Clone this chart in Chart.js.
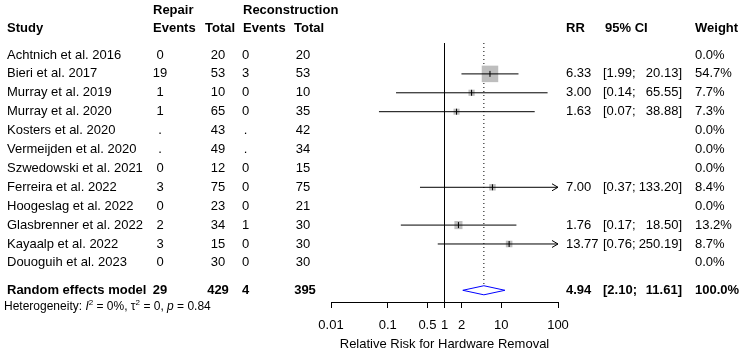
<!DOCTYPE html>
<html>
<head>
<meta charset="utf-8">
<script src="https://cdn.jsdelivr.net/npm/chart.js@4.4.0/dist/chart.umd.min.js"></script>
<style>
  html, body { margin: 0; padding: 0; background: #fff; }
  #wrap { width: 743px; height: 353px; }
</style>
</head>
<body>
<div id="wrap"><canvas id="canvas"></canvas></div>
<script>
// study data
const studies = ['Achtnich et al. 2016', 'Bieri et al. 2017', 'Murray et al. 2019', 'Murray et al. 2020',
  'Kosters et al. 2020', 'Vermeijden et al. 2020', 'Szwedowski et al. 2021', 'Ferreira et al. 2022',
  'Hoogeslag et al. 2022', 'Glasbrenner et al. 2022', 'Kayaalp et al. 2022', 'Douoguih et al. 2023'];
const repairEvents = ['0', '19', '1', '1', '.', '.', '0', '3', '0', '2', '3', '0'];
const repairTotal = [20, 53, 10, 65, 43, 49, 12, 75, 23, 34, 15, 30];
const reconEvents = ['0', '3', '0', '0', '.', '.', '0', '0', '0', '1', '0', '0'];
const reconTotal = [20, 53, 10, 35, 42, 34, 15, 75, 21, 30, 30, 30];
const rr = [null, 6.33, 3.00, 1.63, null, null, null, 7.00, null, 1.76, 13.77, null];
const ciLow = [null, 1.99, 0.14, 0.07, null, null, null, 0.37, null, 0.17, 0.76, null];
const ciHigh = [null, 20.13, 65.55, 38.88, null, null, null, 133.20, null, 18.50, 250.19, null];
const weight = [0.0, 54.7, 7.7, 7.3, 0.0, 0.0, 0.0, 8.4, 0.0, 13.2, 8.7, 0.0];

// pooled (random effects) result
const pooled = { repEv: 29, repTot: 429, recEv: 4, recTot: 395, rr: 4.94, lo: 2.10, hi: 11.61, w: 100.0 };
const tickVals = [0.01, 0.1, 0.5, 1, 2, 10, 100];
const xMin = 0.01, xMax = 100;

const FONT = '"Liberation Sans", Arial, Helvetica, sans-serif';
const yTop = -0.635, yBottom = 13.07;
const pooledRow = 12.45;
const hetRow = 13.33;
const diamondH = 0.24;

function ciText(lo, hi) {
  return ['[' + lo.toFixed(2) + ';', hi.toFixed(2) + ']'];
}

// all the text columns of the table
const tablePlugin = {
  id: 'forestTable',
  afterDraw(chart) {
    const ctx = chart.ctx;
    const ys = chart.scales.y;
    ctx.save();
    ctx.fillStyle = '#000';
    ctx.textBaseline = 'middle';
    function txt(s, x, row, bold, align) {
      ctx.font = (bold ? 'bold ' : '') + '13px ' + FONT;
      ctx.textAlign = align || 'left';
      ctx.fillText(s, x, ys.getPixelForValue(row));
    }
    // headers
    txt('Repair', 153, -2.38, true);
    txt('Reconstruction', 243, -2.38, true);
    txt('Study', 7, -1.43, true);
    txt('Events', 153, -1.43, true);
    txt('Total', 205, -1.43, true);
    txt('Events', 243, -1.43, true);
    txt('Total', 294, -1.43, true);
    txt('RR', 566, -1.43, true);
    txt('95% CI', 605, -1.43, true);
    txt('Weight', 695, -1.43, true);

    studies.forEach((s, i) => {
      txt(s, 7, i);
      txt(repairEvents[i], 160, i, false, 'center');
      txt(String(repairTotal[i]), 218, i, false, 'center');
      txt(reconEvents[i], 245.5, i, false, 'center');
      txt(String(reconTotal[i]), 303, i, false, 'center');
      if (rr[i] != null) {
        txt(rr[i].toFixed(2), 566, i);
        const c = ciText(ciLow[i], ciHigh[i]);
        txt(c[0], 603, i);
        txt(c[1], 682, i, false, 'right');
      }
      txt(weight[i].toFixed(1) + '%', 695, i);
    });

    // pooled row
    txt('Random effects model', 7, pooledRow, true);
    txt(String(pooled.repEv), 160, pooledRow, true, 'center');
    txt(String(pooled.repTot), 218, pooledRow, true, 'center');
    txt(String(pooled.recEv), 245.5, pooledRow, true, 'center');
    txt(String(pooled.recTot), 305, pooledRow, true, 'center');
    txt(pooled.rr.toFixed(2), 566, pooledRow, true);
    const pc = ciText(pooled.lo, pooled.hi);
    txt(pc[0], 603, pooledRow, true);
    txt(pc[1], 682, pooledRow, true, 'right');
    txt(pooled.w.toFixed(1) + '%', 695, pooledRow, true);

    // heterogeneity line, pieces with italic / superscript
    const hy = ys.getPixelForValue(hetRow);
    let hx = 4;
    const parts = [
      ['Heterogeneity: ', '', 12, 0], ['I', 'italic ', 12, 0], ['2', '', 8, -4],
      [' = 0%, ', '', 12, 0], ['\u03C4', '', 12, 0], ['2', '', 8, -4],
      [' = 0, ', '', 12, 0], ['p', 'italic ', 12, 0], [' = 0.84', '', 12, 0]
    ];
    ctx.textAlign = 'left';
    parts.forEach(p => {
      ctx.font = p[1] + p[2] + 'px ' + FONT;
      ctx.fillText(p[0], hx, hy + p[3]);
      hx += ctx.measureText(p[0]).width;
    });
    ctx.restore();
  }
};

// arrow heads where the CI runs past the axis
const arrowPlugin = {
  id: 'ciArrows',
  afterDatasetsDraw(chart) {
    const ctx = chart.ctx;
    const xs = chart.scales.x, ys = chart.scales.y;
    ctx.save();
    ctx.strokeStyle = '#000';
    ctx.lineWidth = 1;
    rr.forEach((v, i) => {
      if (v == null || ciHigh[i] <= xMax) return;
      const px = xs.getPixelForValue(xMax);
      const py = ys.getPixelForValue(i);
      ctx.beginPath();
      ctx.moveTo(px - 6, py - 3.5);
      ctx.lineTo(px, py);
      ctx.lineTo(px - 6, py + 3.5);
      ctx.stroke();
    });
    ctx.restore();
  }
};

const datasets = [];

// small black marks at the estimates
const estPoints = [];
rr.forEach((v, i) => { if (v != null) estPoints.push({ x: v, y: i }); });
datasets.push({
  data: estPoints, pointStyle: 'line', rotation: 90, pointRadius: 3,
  borderColor: '#000', borderWidth: 1, order: 0
});

// confidence interval lines
rr.forEach((v, i) => {
  if (v == null) return;
  datasets.push({
    data: [{ x: Math.max(ciLow[i], xMin), y: i }, { x: Math.min(ciHigh[i], xMax), y: i }],
    showLine: true, pointRadius: 0, borderColor: '#000', borderWidth: 1, clip: false, order: 1
  });
});

// weight squares
const sqPoints = [], sqRadius = [];
rr.forEach((v, i) => {
  if (v == null) return;
  sqPoints.push({ x: v, y: i });
  sqRadius.push(16.5 * Math.sqrt(weight[i] / 54.7) / Math.SQRT2);
});
datasets.push({
  data: sqPoints, pointStyle: 'rect', pointRadius: sqRadius,
  backgroundColor: '#bebebe', borderWidth: 0, order: 2
});

// pooled diamond
datasets.push({
  data: [
    { x: pooled.lo, y: pooledRow }, { x: pooled.rr, y: pooledRow - diamondH },
    { x: pooled.hi, y: pooledRow }, { x: pooled.rr, y: pooledRow + diamondH },
    { x: pooled.lo, y: pooledRow }
  ],
  showLine: true, pointRadius: 0, borderColor: '#0000ff', borderWidth: 1, tension: 0,
  fill: false, clip: false, order: 3
});

// line of no effect
datasets.push({
  data: [{ x: 1, y: yTop }, { x: 1, y: yBottom }],
  showLine: true, pointRadius: 0, borderColor: '#000', borderWidth: 1, clip: false, order: 4
});

// pooled estimate, dotted
datasets.push({
  data: [{ x: pooled.rr, y: yTop }, { x: pooled.rr, y: pooledRow - diamondH }],
  showLine: true, pointRadius: 0, borderColor: '#000', borderWidth: 1,
  borderDash: [1, 3], clip: false, order: 5
});

const config = {
  type: 'scatter',
  data: { datasets: datasets },
  options: {
    responsive: true,
    maintainAspectRatio: false,
    animation: false,
    events: [],
    layout: { padding: { left: 331, right: 185, top: 43, bottom: 0 } },
    plugins: { legend: { display: false }, tooltip: { enabled: false } },
    scales: {
      x: {
        type: 'logarithmic',
        min: xMin,
        max: xMax,
        offset: false,
        afterBuildTicks(scale) {
          scale.ticks = tickVals.map(v => ({ value: v }));
        },
        afterFit(scale) { scale.height = 51; },
        ticks: {
          autoSkip: false,
          maxRotation: 0,
          padding: 10,
          color: '#000',
          font: { family: FONT, size: 13 },
          callback: (v) => String(v)
        },
        grid: { drawOnChartArea: false, drawTicks: true, tickLength: 6, color: '#000', lineWidth: 1 },
        border: { display: true, color: '#000', width: 1 },
        title: {
          display: true,
          text: 'Relative Risk for Hardware Removal',
          color: '#000',
          font: { family: FONT, size: 13 },
          padding: { top: 0, bottom: 1 }
        }
      },
      y: {
        type: 'linear',
        display: false,
        reverse: true,
        min: yTop,
        max: yBottom
      }
    }
  },
  plugins: [tablePlugin, arrowPlugin]
};

window.myForest = new Chart(document.getElementById('canvas'), config);
</script>
</body>
</html>
